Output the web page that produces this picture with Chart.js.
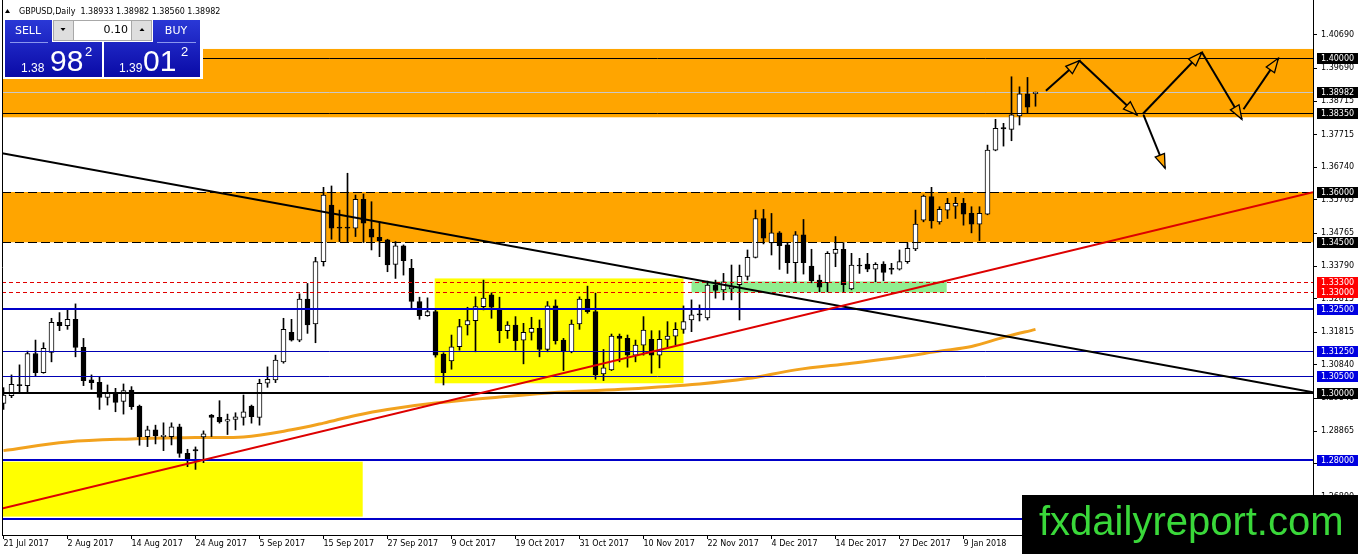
<!DOCTYPE html>
<html><head><meta charset="utf-8">
<script src="https://cdn.jsdelivr.net/npm/chart.js@4.4.1/dist/chart.umd.min.js"></script>
<style>html,body{margin:0;padding:0;background:#fff;overflow:hidden}canvas{display:block}</style>
</head><body>
<canvas id="c" width="1358" height="554" style="width:1358px;height:554px"></canvas>
<script>
// ---------- DATA ----------
const dates = ["07-21","07-24","07-25","07-26","07-27","07-28","07-31","08-01","08-02","08-03",
"08-04","08-07","08-08","08-09","08-10","08-11","08-14","08-15","08-16","08-17",
"08-18","08-21","08-22","08-23","08-24","08-25","08-28","08-29","08-30","08-31",
"09-01","09-04","09-05","09-06","09-07","09-08","09-11","09-12","09-13","09-14",
"09-15","09-18","09-19","09-20","09-21","09-22","09-25","09-26","09-27","09-28",
"09-29","10-02","10-03","10-04","10-05","10-06","10-09","10-10","10-11","10-12",
"10-13","10-16","10-17","10-18","10-19","10-20","10-23","10-24","10-25","10-26",
"10-27","10-30","10-31","11-01","11-02","11-03","11-06","11-07","11-08","11-09",
"11-10","11-13","11-14","11-15","11-16","11-17","11-20","11-21","11-22","11-23",
"11-24","11-27","11-28","11-29","11-30","12-01","12-04","12-05","12-06","12-07",
"12-08","12-11","12-12","12-13","12-14","12-15","12-18","12-19","12-20","12-21",
"12-22","12-26","12-27","12-28","12-29","01-02","01-03","01-04","01-05","01-08",
"01-09","01-10","01-11","01-12","01-15","01-16","01-17","01-18","01-19","01-22"];

const open = [
1.2969,1.2992,1.3025,1.3022,1.3118,1.3061,1.3121,1.3211,1.3201,1.3220,
1.3136,1.3039,1.3032,1.2987,1.2999,1.2975,1.3009,1.2961,1.2870,1.2890,
1.2870,1.2870,1.2899,1.2820,1.2831,1.2869,1.2934,1.2927,1.2916,1.2921,
1.2927,1.2961,1.2927,1.3029,1.3039,1.3093,1.3181,1.3158,1.3280,1.3206,
1.3392,1.3561,1.3495,1.3495,1.3492,1.3578,1.3489,1.3465,1.3457,1.3384,
1.3439,1.3372,1.3273,1.3231,1.3243,1.3116,1.3096,1.3138,1.3203,1.3216,
1.3258,1.3293,1.3250,1.3186,1.3203,1.3158,1.3181,1.3193,1.3130,1.3260,
1.3158,1.3123,1.3206,1.3280,1.3243,1.3057,1.3069,1.3170,1.3163,1.3113,
1.3143,1.3160,1.3113,1.3160,1.3170,1.3190,1.3218,1.3236,1.3224,1.3322,
1.3308,1.3311,1.3323,1.3348,1.3405,1.3521,1.3448,1.3478,1.3442,1.3389,
1.3472,1.3379,1.3337,1.3329,1.3417,1.3429,1.3311,1.3382,1.3385,1.3370,
1.3385,1.3372,1.3370,1.3392,1.3430,1.3516,1.3586,1.3511,1.3546,1.3558,
1.3566,1.3536,1.3504,1.3534,1.3725,1.3792,1.3787,1.3827,1.3893,1.38933];

const high = [
1.3016,1.3054,1.3084,1.3125,1.3158,1.3150,1.3223,1.3240,1.3248,1.3266,
1.3163,1.3054,1.3047,1.3024,1.3014,1.3027,1.3019,1.2964,1.2901,1.2904,
1.2911,1.2911,1.2907,1.2832,1.2839,1.2887,1.2936,1.2977,1.2937,1.2941,
1.2994,1.2964,1.3041,1.3078,1.3113,1.3223,1.3220,1.3296,1.3327,1.3405,
1.3614,1.3618,1.3546,1.3656,1.3591,1.3594,1.3571,1.3511,1.3459,1.3452,
1.3442,1.3399,1.3286,1.3284,1.3248,1.3120,1.3173,1.3220,1.3256,1.3287,
1.3337,1.3299,1.3286,1.3213,1.3228,1.3208,1.3226,1.3218,1.3273,1.3278,
1.3163,1.3218,1.3287,1.3319,1.3298,1.3130,1.3176,1.3176,1.3173,1.3158,
1.3228,1.3186,1.3186,1.3213,1.3210,1.3260,1.3278,1.3263,1.3334,1.3337,
1.3357,1.3382,1.3382,1.3427,1.3546,1.3548,1.3536,1.3482,1.3448,1.3482,
1.3518,1.3429,1.3352,1.3422,1.3467,1.3449,1.3417,1.3402,1.3417,1.3389,
1.3392,1.3387,1.3427,1.3448,1.3546,1.3591,1.3614,1.3556,1.3581,1.3584,
1.3581,1.3556,1.3556,1.3740,1.3817,1.3805,1.3944,1.3914,1.3942,1.38982];

const low = [
1.2951,1.2986,1.3004,1.3004,1.3051,1.3059,1.3093,1.3186,1.3190,1.3108,
1.3022,1.3011,1.2951,1.2964,1.2944,1.2937,1.2951,1.2844,1.2840,1.2848,
1.2828,1.2845,1.2808,1.2780,1.2772,1.2792,1.2870,1.2910,1.2876,1.2890,
1.2904,1.2910,1.2904,1.3017,1.3031,1.3089,1.3155,1.3153,1.3178,1.3150,
1.3379,1.3459,1.3452,1.3452,1.3467,1.3449,1.3427,1.3407,1.3362,1.3342,
1.3352,1.3253,1.3220,1.3229,1.3107,1.3024,1.3071,1.3128,1.3173,1.3123,
1.3248,1.3223,1.3150,1.3163,1.3128,1.3087,1.3158,1.3108,1.3123,1.3146,
1.3067,1.3120,1.3190,1.3238,1.3041,1.3037,1.3067,1.3093,1.3077,1.3093,
1.3113,1.3059,1.3075,1.3133,1.3143,1.3178,1.3183,1.3215,1.3218,1.3283,
1.3278,1.3278,1.3218,1.3337,1.3403,1.3445,1.3412,1.3369,1.3357,1.3332,
1.3355,1.3329,1.3302,1.3302,1.3377,1.3302,1.3308,1.3357,1.3362,1.3332,
1.3335,1.3355,1.3367,1.3387,1.3425,1.3511,1.3492,1.3504,1.3521,1.3521,
1.3501,1.3478,1.3455,1.3532,1.3723,1.3737,1.3753,1.3800,1.3835,1.38560];

const close = [
1.2994,1.3026,1.3022,1.3118,1.3061,1.3133,1.3211,1.3201,1.3220,1.3136,
1.3037,1.3031,1.2987,1.2999,1.2972,1.3007,1.2959,1.2870,1.2890,1.2872,
1.2874,1.2899,1.2820,1.2800,1.2827,1.2878,1.2927,1.2914,1.2921,1.2929,
1.2944,1.2929,1.3029,1.3041,1.3098,1.3190,1.3158,1.3280,1.3203,1.3392,
1.3591,1.3492,1.3492,1.3492,1.3578,1.3507,1.3465,1.3455,1.3382,1.3439,
1.3395,1.3273,1.3231,1.3243,1.3113,1.3061,1.3138,1.3198,1.3216,1.3258,
1.3283,1.3256,1.3186,1.3203,1.3156,1.3181,1.3193,1.3130,1.3260,1.3156,
1.3125,1.3206,1.3280,1.3243,1.3054,1.3075,1.3170,1.3163,1.3113,1.3143,
1.3188,1.3113,1.3160,1.3170,1.3190,1.3213,1.3233,1.3233,1.3322,1.3306,
1.3332,1.3317,1.3348,1.3405,1.3521,1.3462,1.3478,1.3440,1.3389,1.3472,
1.3389,1.3335,1.3316,1.3417,1.3429,1.3323,1.3382,1.3379,1.3370,1.3384,
1.3360,1.3369,1.3392,1.3432,1.3504,1.3588,1.3514,1.3548,1.3566,1.3566,
1.3534,1.3504,1.3536,1.3725,1.3790,1.3788,1.3830,1.3893,1.3853,1.38982];

// moving average read at selected bars
const maIdx = [0,8,16,24,30,36,40,44,48,54,62,70,78,87,93,99,106,112,117,121,125,129];
const maVal = [1.2828,1.2854,1.2863,1.2867,1.2869,1.2890,1.2910,1.2933,1.2951,1.2970,1.2988,1.3003,1.3012,1.3027,1.3043,1.3069,1.3089,1.3107,1.3125,1.3139,1.3166,1.3190];

// x axis tick labels (every 8 bars)
const tickPos = [0,8,16,24,32,40,48,56,64,72,80,88,96,104,112,120];
const tickLabels = ["21 Jul 2017","2 Aug 2017","14 Aug 2017","24 Aug 2017","5 Sep 2017","15 Sep 2017","27 Sep 2017","9 Oct 2017","19 Oct 2017","31 Oct 2017","10 Nov 2017","22 Nov 2017","4 Dec 2017","14 Dec 2017","27 Dec 2017","9 Jan 2018"];

// y axis tick labels
const yTicks = [1.40690,1.39690,1.38715,1.37715,1.36740,1.35765,1.34765,1.33790,1.32815,1.31815,1.30840,1.29840,1.28865,1.27890,1.26890];

// price levels
const blackLevels = [1.40000,1.38350];
const dashLevels = [1.36000,1.34500];
const redLevels = [1.33300,1.33000];
const blueThick = [1.32500,1.28000,1.26240];
const blueThin = [1.31250,1.30500];
const bigLevel = [1.30000];
const askPrice = 1.39012;

// zones [fromBar, toBar, priceTop, priceBottom]
const orangeZones = [[-1,170,1.4027,1.3823],[-1,170,1.3600,1.3450]];
const yellowZones = [[-1,44.9,1.2795,1.2631],[53.9,85.0,1.3342,1.3029]];
const greenZones = [[86.0,117.9,1.3333,1.3300]];

// trend lines [[bar, price],[bar, price]]
const blackTrend = [[-0.1875,1.3716],[163.6875,1.3002]];
const redTrend = [[-0.1875,1.2655],[163.6875,1.3599]];

// projected arrows
const arrows = [
  [[130.3,1.3902],[134.5,1.3992]],
  [[134.5,1.3992],[141.7,1.3830]],
  [[142.4,1.3833],[149.8,1.4017]],
  [[149.8,1.4017],[154.8,1.3817]],
  [[155.0,1.3847],[159.35,1.3999]],
  [[142.5,1.3830],[145.2,1.3671]]
];

// ---------- DRAWING ----------
const FONT = '"DejaVu Sans", sans-serif';
const last = close.length - 1;
const bid = close[last];

function hline(ctx, a, py, w, color, dash) {
  ctx.save();
  ctx.strokeStyle = color; ctx.lineWidth = w; ctx.setLineDash(dash || []);
  const yy = w % 2 === 1 ? Math.round(py) + 0.5 : Math.round(py);
  ctx.beginPath(); ctx.moveTo(a.left, yy); ctx.lineTo(a.right, yy); ctx.stroke();
  ctx.restore();
}
function arrow(ctx, x1, y1, x2, y2) {
  ctx.strokeStyle = '#000'; ctx.lineWidth = 2;
  ctx.beginPath(); ctx.moveTo(x1, y1); ctx.lineTo(x2, y2); ctx.stroke();
  const ang = Math.atan2(y2 - y1, x2 - x1), L = 14, W = 5;
  const bx = x2 - L * Math.cos(ang), by = y2 - L * Math.sin(ang);
  ctx.beginPath(); ctx.moveTo(x2, y2);
  ctx.lineTo(bx + W * Math.sin(ang), by - W * Math.cos(ang));
  ctx.lineTo(bx - W * Math.sin(ang), by + W * Math.cos(ang));
  ctx.closePath(); ctx.fillStyle = '#FFA500'; ctx.fill();
  ctx.lineWidth = 1.3; ctx.stroke();
}

const overlay = {
  id: 'overlay',
  beforeDatasetsDraw(chart) {
    const {ctx, chartArea: a, scales: {x, y}} = chart;
    ctx.save();
    ctx.beginPath(); ctx.rect(a.left, a.top, a.right - a.left, a.bottom - a.top); ctx.clip();
    const zone = (z, col) => {
      const x0 = x.getPixelForValue(z[0]), x1 = x.getPixelForValue(z[1]);
      const y0 = y.getPixelForValue(z[2]), y1 = y.getPixelForValue(z[3]);
      ctx.fillStyle = col; ctx.fillRect(x0, y0, x1 - x0, y1 - y0);
    };
    orangeZones.forEach(z => zone(z, '#FFA500'));
    yellowZones.forEach(z => zone(z, '#FFFF00'));
    greenZones.forEach(z => zone(z, '#90EE90'));
    hline(ctx, a, y.getPixelForValue(bid), 1, '#C8C8C8');
    ctx.restore();
  },
  afterDatasetsDraw(chart) {
    const {ctx, chartArea: a, scales: {x, y}} = chart;
    ctx.save();
    ctx.beginPath(); ctx.rect(a.left, a.top, a.right - a.left, a.bottom - a.top); ctx.clip();
    blackLevels.forEach(p => hline(ctx, a, y.getPixelForValue(p), 1, '#000'));
    dashLevels.forEach(p => hline(ctx, a, y.getPixelForValue(p), 1, '#000', [9, 4]));
    redLevels.forEach(p => hline(ctx, a, y.getPixelForValue(p), 1, '#E00000', [4, 3]));
    blueThin.forEach(p => hline(ctx, a, y.getPixelForValue(p), 1, '#0000B4'));
    blueThick.forEach(p => hline(ctx, a, y.getPixelForValue(p), 2, '#0000C8'));
    bigLevel.forEach(p => hline(ctx, a, y.getPixelForValue(p), 2, '#000'));
    const tl = (t, col) => {
      ctx.strokeStyle = col; ctx.lineWidth = 2; ctx.setLineDash([]);
      ctx.beginPath();
      ctx.moveTo(x.getPixelForValue(t[0][0]), y.getPixelForValue(t[0][1]));
      ctx.lineTo(x.getPixelForValue(t[1][0]), y.getPixelForValue(t[1][1]));
      ctx.stroke();
    };
    tl(blackTrend, '#000');
    tl(redTrend, '#DD0000');
    arrows.forEach(s => arrow(ctx,
      x.getPixelForValue(s[0][0]), y.getPixelForValue(s[0][1]),
      x.getPixelForValue(s[1][0]), y.getPixelForValue(s[1][1])));
    ctx.restore();
    // left frame
    ctx.save(); ctx.strokeStyle = '#000'; ctx.lineWidth = 1;
    ctx.beginPath(); ctx.moveTo(a.left + 0.5, 0); ctx.lineTo(a.left + 0.5, a.bottom); ctx.stroke();
    ctx.restore();
  },
  afterDraw(chart) {
    const {ctx, chartArea: a, scales: {y}} = chart;
    ctx.save();
    // price tags on the right axis
    const tags = [];
    blackLevels.forEach(p => tags.push([p, '#000']));
    tags.push([bid, '#000']);
    dashLevels.forEach(p => tags.push([p, '#000']));
    redLevels.forEach(p => tags.push([p, '#FF0000']));
    blueThick.slice(0, 1).forEach(p => tags.push([p, '#0000E0']));
    blueThin.forEach(p => tags.push([p, '#0000E0']));
    bigLevel.forEach(p => tags.push([p, '#000']));
    blueThick.slice(1, 2).forEach(p => tags.push([p, '#0000E0']));
    ctx.font = '8px ' + FONT; ctx.textBaseline = 'middle'; ctx.textAlign = 'left';
    tags.forEach(([p, col]) => {
      const py = Math.round(y.getPixelForValue(p));
      ctx.fillStyle = col; ctx.fillRect(a.right + 4, py - 5, 60, 11);
      ctx.fillStyle = '#fff'; ctx.fillText(p.toFixed(5), a.right + 8, py + 0.5);
    });

    // header
    ctx.fillStyle = '#000';
    ctx.beginPath(); ctx.moveTo(5, 13); ctx.lineTo(10, 13); ctx.lineTo(7.5, 9); ctx.closePath(); ctx.fill();
    ctx.fillText('GBPUSD,Daily  ' + [open[last], high[last], low[last], close[last]].map(v => v.toFixed(5)).join(' '), 19, 11.5);

    // one-click trading panel
    const grad = (y0, y1) => { const g = ctx.createLinearGradient(0, y0, 0, y1); g.addColorStop(0, '#2a38d6'); g.addColorStop(1, '#0a0aa6'); return g; };
    ctx.fillStyle = '#fff'; ctx.fillRect(3, 18, 200, 61);
    ctx.fillStyle = grad(20, 77);
    ctx.fillRect(5, 20, 47, 57); ctx.fillRect(5, 42, 97, 35);
    ctx.fillRect(153, 20, 47, 57); ctx.fillRect(104, 42, 96, 35);
    ctx.strokeStyle = '#8a96ee'; ctx.lineWidth = 1;
    ctx.beginPath(); ctx.moveTo(10, 42.5); ctx.lineTo(48, 42.5); ctx.moveTo(157, 42.5); ctx.lineTo(196, 42.5); ctx.stroke();
    // spinner
    ctx.fillStyle = '#dedede'; ctx.fillRect(53, 20, 20, 21); ctx.fillRect(132, 20, 20, 21);
    ctx.fillStyle = '#fff'; ctx.fillRect(73, 20, 59, 21);
    ctx.strokeStyle = '#a8a8a8'; ctx.strokeRect(53.5, 20.5, 98, 20);
    ctx.beginPath(); ctx.moveTo(73.5, 20); ctx.lineTo(73.5, 41); ctx.moveTo(131.5, 20); ctx.lineTo(131.5, 41); ctx.stroke();
    ctx.fillStyle = '#000';
    ctx.beginPath(); ctx.moveTo(60.5, 28); ctx.lineTo(65.5, 28); ctx.lineTo(63, 31); ctx.closePath(); ctx.fill();
    ctx.beginPath(); ctx.moveTo(139.5, 31); ctx.lineTo(144.5, 31); ctx.lineTo(142, 28); ctx.closePath(); ctx.fill();
    ctx.font = '11px ' + FONT; ctx.textAlign = 'right'; ctx.fillText('0.10', 128, 30.5);
    ctx.fillStyle = '#fff'; ctx.textAlign = 'center';
    ctx.fillText('SELL', 28, 31); ctx.fillText('BUY', 176, 31);
    const quote = (v, xs) => {
      const s = v.toFixed(5);
      ctx.textAlign = 'left'; ctx.textBaseline = 'alphabetic';
      ctx.font = '12px "Liberation Sans", sans-serif'; ctx.fillText(s.slice(0, 4), xs[0], 72);
      ctx.font = '30px "Liberation Sans", sans-serif'; ctx.fillText(s.slice(4, 6), xs[1], 71);
      ctx.font = '13px "Liberation Sans", sans-serif'; ctx.fillText(s.slice(6), xs[2], 56);
    };
    quote(bid, [21, 50, 85]);
    quote(askPrice, [119, 143, 181]);

    // watermark
    ctx.fillStyle = '#000'; ctx.fillRect(1022, 495, 336, 59);
    ctx.fillStyle = '#3AD83A'; ctx.font = '40px "Liberation Sans", sans-serif';
    ctx.textAlign = 'left'; ctx.textBaseline = 'alphabetic';
    ctx.fillText('fxdailyreport.com', 1039, 535);
    ctx.restore();
  }
};

new Chart(document.getElementById('c'), {
  type: 'bar',
  data: {
    datasets: [
      {
        type: 'line', order: 3,
        data: maIdx.map((v, k) => ({x: v, y: maVal[k]})),
        borderColor: '#F2A21E', borderWidth: 3, pointRadius: 0, tension: 0.35, fill: false
      },
      {
        order: 2, grouped: false, barThickness: 1, maxBarThickness: 1,
        data: dates.map((d, i) => ({x: i, y: [low[i], high[i]]})),
        backgroundColor: '#000', borderWidth: 0
      },
      {
        order: 1, grouped: false, barThickness: 5, maxBarThickness: 5, minBarLength: 1,
        data: dates.map((d, i) => ({x: i, y: [open[i], close[i]]})),
        backgroundColor: dates.map((d, i) => close[i] >= open[i] ? '#fff' : '#000'),
        borderColor: '#000', borderWidth: 1, borderSkipped: false
      }
    ]
  },
  options: {
    responsive: false, animation: false, devicePixelRatio: 1, events: [],
    layout: {padding: {left: 2, top: 0, right: 0, bottom: 0}},
    plugins: {legend: {display: false}, tooltip: {enabled: false}},
    scales: {
      x: {
        type: 'linear', min: -0.1875, max: 163.6875, offset: false,
        grid: {display: true, offset: false, drawOnChartArea: false, drawTicks: true, tickLength: 4, color: '#000'},
        border: {display: true, color: '#000'},
        ticks: {autoSkip: false, maxRotation: 0, minRotation: 0, align: 'start', padding: 0, color: '#000',
          font: {family: FONT, size: 8}, callback: (v, i) => tickLabels[i]},
        afterBuildTicks: s => { s.ticks = tickPos.map(v => ({value: v})); },
        afterFit: s => { s.height = 19; s.paddingLeft = 0; s.paddingRight = 0; }
      },
      y: {
        position: 'right', min: 1.257612, max: 1.417313,
        grid: {display: true, drawOnChartArea: false, drawTicks: true, tickLength: 4, color: '#000'},
        border: {display: true, color: '#000'},
        ticks: {autoSkip: false, padding: 4, color: '#000', font: {family: FONT, size: 8}, callback: v => v.toFixed(5)},
        afterBuildTicks: s => { s.ticks = yTicks.map(v => ({value: v})); },
        afterFit: s => { s.width = 45; s.paddingTop = 0; s.paddingBottom = 0; }
      }
    }
  },
  plugins: [overlay]
});
</script>
</body></html>
